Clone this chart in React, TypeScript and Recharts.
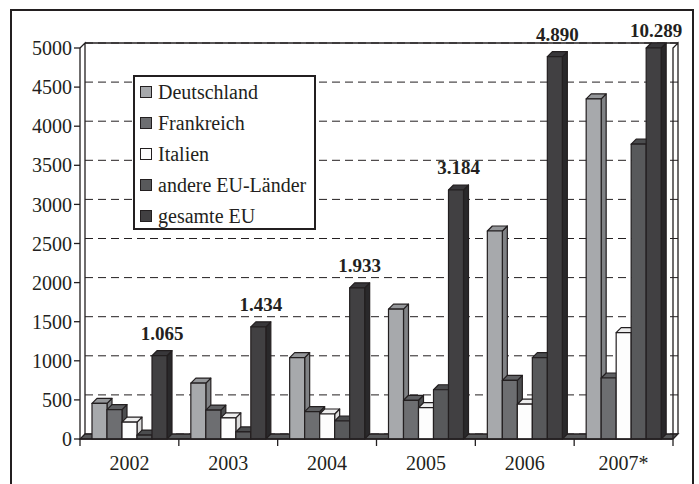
import {
  BarChart, Bar, XAxis, YAxis, CartesianGrid, Legend, LabelList, ReferenceArea,
} from 'recharts';

// Anzahl nach Jahr (gesamte EU als Beschriftung über der Säule)
const years = ['2002', '2003', '2004', '2005', '2006', '2007*'];
const deutschland = [455, 715, 1040, 1660, 2660, 4350];
const frankreich = [375, 370, 350, 495, 750, 780];
const italien = [215, 270, 320, 400, 445, 1360];
const andereEU = [50, 90, 230, 630, 1040, 3770];
const gesamteEU = [1065, 1434, 1933, 3184, 4890, 10289];
const yTicks = [0, 500, 1000, 1500, 2000, 2500, 3000, 3500, 4000, 4500, 5000];

const INK = '#231f20';
const FONT = '"Liberation Serif", "Times New Roman", serif';

const W = 699;
const H = 484;
const MARGIN = { top: 48, right: 26, bottom: 0, left: 20 };
const Y_AXIS_W = 60;
const X_AXIS_H = 45;
const PLOT_TOP = MARGIN.top;
const PLOT_BOTTOM = H - MARGIN.bottom - X_AXIS_H;
const DEPTH = 5; // 3D offset of bars and walls

const SERIES = [
  { key: 'deutschland', name: 'Deutschland', front: '#a7a9ac', side: '#808285', top: '#949699' },
  { key: 'frankreich', name: 'Frankreich', front: '#6d6e71', side: '#4d4e50', top: '#5e5f62' },
  { key: 'italien', name: 'Italien', front: '#fdfdfd', side: '#dcdcdc', top: '#eeeeee' },
  { key: 'andere', name: 'andere EU-Länder', front: '#58595b', side: '#3d3e40', top: '#4b4c4e' },
  { key: 'gesamt', name: 'gesamte EU', front: '#414042', side: '#29282a', top: '#38373a' },
];

const data = years.map((year, i) => ({
  year,
  deutschland: deutschland[i],
  frankreich: frankreich[i],
  italien: italien[i],
  andere: andereEU[i],
  gesamt: gesamteEU[i],
}));

function make3DBar(front: string, side: string, top: string) {
  return (p: any) => {
    const { x, y, width, height } = p;
    if (x == null || y == null || !width) return <g />;
    const yb = y + height;
    const yt = Math.max(y, PLOT_TOP); // values above the axis end at the top
    const xr = x + width;
    return (
      <g stroke={INK} strokeWidth={1.2} strokeLinejoin="round">
        <polygon
          points={`${xr},${yt} ${xr + DEPTH},${yt - DEPTH} ${xr + DEPTH},${yb - DEPTH} ${xr},${yb}`}
          fill={side}
        />
        <polygon
          points={`${x},${yt} ${x + DEPTH},${yt - DEPTH} ${xr + DEPTH},${yt - DEPTH} ${xr},${yt}`}
          fill={top}
        />
        <rect x={x} y={yt} width={width} height={Math.max(yb - yt, 0)} fill={front} />
      </g>
    );
  };
}

// floor slab and wall edges of the 3D box
function Walls(p: any) {
  const { x, y, width: w, height: h } = p;
  if (x == null) return <g />;
  const b = y + h;
  return (
    <g stroke={INK} strokeWidth={1.3} fill="none">
      <polygon
        points={`${x},${b} ${x + w},${b} ${x + w + DEPTH},${b - DEPTH} ${x + DEPTH},${b - DEPTH}`}
        fill="#58595b"
      />
      <polyline points={`${x},${y} ${x + DEPTH},${y - DEPTH} ${x + DEPTH},${b - DEPTH}`} />
      <line x1={x + DEPTH} y1={y - DEPTH} x2={x + w + DEPTH} y2={y - DEPTH} />
      <polyline points={`${x + w},${b} ${x + w},${y} ${x + w + DEPTH},${y - DEPTH} ${x + w + DEPTH},${b - DEPTH}`} />
    </g>
  );
}

function GridLine(p: any) {
  return (
    <line
      key={`g-${p.index}`}
      x1={p.x1 + DEPTH}
      x2={p.x2 + DEPTH}
      y1={p.y1 - DEPTH}
      y2={p.y2 - DEPTH}
      stroke={INK}
      strokeWidth={1}
      strokeDasharray="8 5"
    />
  );
}

function YearTick(p: any) {
  const { x, payload, index } = p;
  const half = payload.offset ?? (W - MARGIN.left - Y_AXIS_W - MARGIN.right) / years.length / 2;
  return (
    <g>
      <line x1={x - half} x2={x - half} y1={PLOT_BOTTOM} y2={PLOT_BOTTOM + 7} stroke={INK} strokeWidth={1.3} />
      {index === years.length - 1 && (
        <line x1={x + half} x2={x + half} y1={PLOT_BOTTOM} y2={PLOT_BOTTOM + 7} stroke={INK} strokeWidth={1.3} />
      )}
      <text x={x} y={PLOT_BOTTOM + 31} textAnchor="middle" fontSize={20} fill={INK} fontFamily={FONT}>
        {payload.value}
      </text>
    </g>
  );
}

function TotalLabel(p: any) {
  const vb = p.viewBox ?? p;
  const { x, y, width } = vb;
  if (x == null || y == null) return null;
  const yt = Math.max(y, PLOT_TOP);
  const baseline = Math.max(yt - 16, PLOT_TOP - 11);
  return (
    <text
      x={x + width / 2 + DEPTH / 2}
      y={baseline}
      textAnchor="middle"
      fontSize={19}
      fontWeight="bold"
      fill={INK}
      fontFamily={FONT}
    >
      {Number(p.value).toLocaleString('de-DE')}
    </text>
  );
}

function LegendBox() {
  return (
    <div
      style={{
        boxSizing: 'border-box', width: 183, height: 155, border: `2px solid ${INK}`,
        background: '#fff', paddingLeft: 5, fontFamily: FONT,
      }}
    >
      {SERIES.map((s, i) => (
        <div key={s.key} style={{ display: 'flex', alignItems: 'center', height: 31, marginTop: i === 0 ? -1 : 0 }}>
          <span
            style={{
              display: 'inline-block', width: 12, height: 12, boxSizing: 'border-box',
              border: `1.5px solid ${INK}`, background: s.front, marginRight: 6,
            }}
          />
          <span style={{ fontSize: 20, lineHeight: '20px', color: INK }}>{s.name}</span>
        </div>
      ))}
    </div>
  );
}

export default function App() {
  return (
    <div style={{ position: 'absolute', left: 0, top: 0, width: W, height: H, overflow: 'hidden', background: '#fff', fontFamily: FONT }}>
      <style>{'.recharts-wrapper [clip-path]{clip-path:none !important}'}</style>
      <BarChart width={W} height={H} data={data} margin={MARGIN} barCategoryGap={12} barGap={0}>
        <CartesianGrid vertical={false} horizontal={GridLine} />
        <ReferenceArea y1={0} y2={5000} shape={Walls} zIndex={-50} />
        <XAxis
          dataKey="year"
          height={X_AXIS_H}
          tickLine={false}
          axisLine={{ stroke: INK, strokeWidth: 1.3 }}
          tick={YearTick}
          interval={0}
        />
        <YAxis
          width={Y_AXIS_W}
          domain={[0, 5000]}
          ticks={yTicks}
          allowDataOverflow
          tickSize={6}
          tickMargin={2}
          axisLine={{ stroke: INK, strokeWidth: 1.3 }}
          tickLine={{ stroke: INK, strokeWidth: 1.3 }}
          tick={{ fontSize: 20, fill: INK, fontFamily: FONT }}
        />
        <Legend
          layout="vertical"
          verticalAlign="middle"
          align="center"
          wrapperStyle={{ position: 'absolute', left: 133, top: 75, width: 183, height: 155 }}
          content={<LegendBox />}
        />
        {SERIES.map((s) => (
          <Bar
            key={s.key}
            dataKey={s.key}
            name={s.name}
            fill={s.front}
            shape={make3DBar(s.front, s.side, s.top)}
            isAnimationActive={false}
          >
            {s.key === 'gesamt' && <LabelList dataKey="gesamt" content={TotalLabel} />}
          </Bar>
        ))}
      </BarChart>
      <div
        style={{
          position: 'absolute', left: 10, top: 9, width: 684, height: 490,
          border: `2px solid ${INK}`, boxSizing: 'border-box', pointerEvents: 'none',
        }}
      />
    </div>
  );
}
